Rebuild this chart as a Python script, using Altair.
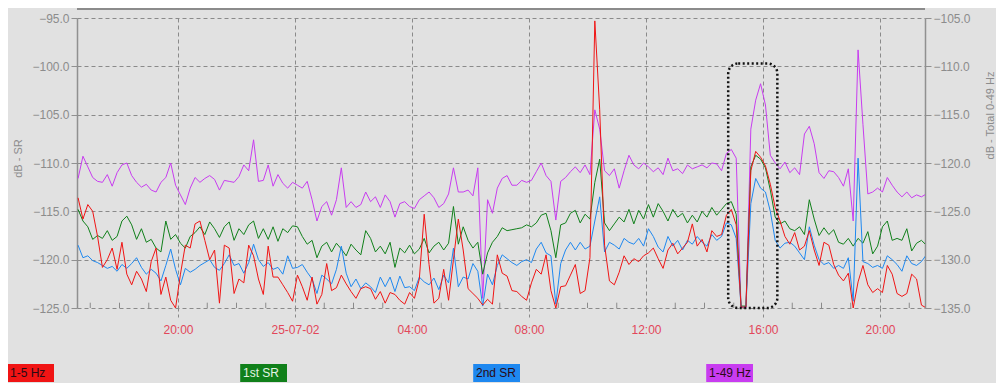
import altair as alt
import numpy as np
import pandas as pd

# sampling grid: 10-minute samples starting 25-07-01 16:35 (hours since 25-07-01 00:00)
START_HOUR = 16 + 35 / 60
STEP_HOUR = 10 / 60

RED = [
    -113.6, -115.8, -114.3, -115.0, -117.6, -120.8, -120.0, -118.8, -121.0, -118.2,
    -121.5, -122.6, -121.2, -122.0, -123.3, -120.2, -118.8, -123.6, -121.8, -124.2,
    -125.0, -121.5, -118.5, -118.8, -116.3, -116.0, -118.0, -120.0, -119.0, -124.5,
    -118.5,
    -118.8, -123.5, -122.0, -122.4, -118.5, -119.6, -122.0, -123.6, -118.6, -121.8,
    -121.8, -122.6, -123.4, -124.3, -121.6, -122.8, -124.2, -121.8, -124.6, -123.6,
    -120.4, -123.2, -122.9, -121.6, -122.5, -123.3, -124.0, -123.0, -122.8,
    -123.0, -124.1, -123.3, -124.5, -123.4, -123.6, -124.2, -124.6, -123.4, -124.0,
    -122.0, -115.3, -120.5, -124.5, -124.0, -121.0, -124.2, -120.0, -115.8, -119.0,
    -123.0, -123.5, -124.0, -124.7, -124.1, -124.6, -119.5, -121.4, -121.7, -123.2,
    -123.3, -123.8, -124.2, -122.4, -121.0, -121.5, -119.5, -123.2, -125.0, -122.8,
    -122.7, -121.6, -120.5, -123.5, -123.2, -119.8, -95.3, -104.5, -118.5, -122.2,
    -122.6, -121.3, -119.6, -120.5, -119.9, -120.2, -119.6, -119.3, -118.8, -119.9,
    -120.9, -119.0, -118.3, -119.4, -118.8, -118.2, -116.3, -118.6, -117.9, -119.2,
    -117.0, -117.6, -117.4, -115.4, -114.8, -116.4, -124.9, -124.9, -110.8, -108.8,
    -109.4, -110.3, -112.2, -114.6, -116.0, -117.6, -118.4, -117.2, -119.0, -118.6,
    -117.0, -119.0, -120.6, -118.2, -118.5, -120.5, -121.6, -122.2, -121.4, -125.0,
    -122.3, -120.6, -122.6, -123.4, -123.0, -123.4, -120.6, -121.5, -123.5, -123.8,
    -123.5, -121.5, -122.0, -124.7, -125.0,
]

GREEN = [
    -114.8, -116.0, -116.6, -117.9, -117.5, -117.8, -117.0, -118.0, -117.6, -116.0,
    -115.5, -116.4, -117.9, -116.8, -118.2, -117.9, -118.8, -119.2, -116.0, -117.9,
    -117.4, -118.3, -118.8, -117.6, -117.2, -116.6, -117.4, -116.1, -116.8, -117.7,
    -116.6,
    -116.1, -118.0, -116.8, -117.4, -116.4, -116.0, -117.8, -116.8, -117.9, -116.6,
    -118.1, -116.8, -117.2, -116.5, -116.6, -117.6, -118.4, -118.0, -119.8, -118.6,
    -118.2, -119.2, -118.3, -118.9, -119.6, -118.4, -119.0, -119.5, -117.0,
    -117.8, -119.2, -118.6, -119.4, -118.2, -120.8, -118.8, -119.3, -118.5, -119.4,
    -118.9, -117.8, -119.3, -118.6, -118.2, -119.0, -118.3, -114.5, -118.4, -116.6,
    -118.0, -118.8, -118.2, -121.5, -119.3, -118.2, -117.6, -116.7, -117.0, -116.9,
    -116.8, -116.7, -116.4, -116.6, -116.2, -115.4, -115.2, -117.0, -119.8, -116.4,
    -116.2, -115.2, -114.9, -116.2, -115.3, -115.8, -112.0, -109.6, -116.2, -117.0,
    -116.3, -115.6, -116.1, -114.8, -116.3, -114.9, -115.8, -114.3, -115.6, -114.2,
    -115.0, -116.0, -114.8, -115.6, -115.2, -116.2, -115.4, -116.1, -115.0, -115.6,
    -114.6, -115.4, -114.8, -114.2, -114.0, -115.3, -124.8, -124.8, -110.4, -109.2,
    -109.6, -110.5, -112.8, -115.6, -116.3, -116.0, -116.8, -117.0, -116.6, -117.4,
    -113.8, -115.8, -117.5, -116.7, -117.4, -116.9, -118.2, -118.4, -117.8, -118.6,
    -117.8, -118.3, -117.1, -119.4, -118.6, -116.6, -116.0, -118.0, -117.8, -118.0,
    -116.8, -119.1, -118.3, -118.0, -118.5,
]

BLUE = [
    -118.5, -119.8, -119.6, -120.1, -120.3, -120.6, -120.9, -120.7, -121.2, -120.5,
    -120.9, -120.4, -119.8, -120.8, -121.5, -121.0, -121.4, -122.2, -120.6, -118.9,
    -121.0, -122.6, -120.9, -121.3, -121.0, -120.6, -120.3, -120.0, -120.8, -121.1,
    -120.4,
    -119.5, -120.6, -120.4, -121.4, -120.3, -118.4, -120.0, -120.7, -120.3, -121.0,
    -120.8, -121.5, -119.6, -120.9, -120.8, -120.5, -121.3, -122.0, -123.5, -121.6,
    -122.0, -122.5, -121.0, -118.6, -121.4, -122.8, -122.0, -123.0, -122.4,
    -122.8, -123.4, -121.8, -122.8, -121.8, -123.3, -121.7, -122.9, -122.8, -123.2,
    -121.8, -122.3, -122.6, -121.9, -123.1, -121.6, -122.4, -118.8, -122.8, -121.8,
    -122.0, -120.4, -121.2, -124.8, -121.5, -122.6, -120.6, -119.5, -119.9, -120.3,
    -120.6, -120.2, -120.0, -120.3, -118.9, -118.2, -119.3, -119.6, -124.6, -120.4,
    -119.0, -118.2, -119.0, -118.2, -118.9, -118.6, -116.0, -113.5, -119.2, -118.2,
    -118.5, -118.9, -117.8, -118.2, -118.4, -117.8, -118.6, -116.8, -117.6, -118.7,
    -119.2, -117.6, -118.6, -118.0, -119.0, -118.0, -118.4, -117.6, -118.2, -118.6,
    -117.4, -118.0, -117.6, -116.2, -116.4, -117.8, -124.9, -124.9, -114.2, -111.6,
    -112.6, -113.0, -115.0, -118.0, -118.8, -118.3, -118.2, -118.6, -119.3, -120.0,
    -116.6, -118.5, -120.0, -120.5, -120.3, -120.9, -120.6, -120.9, -119.8, -124.3,
    -109.5, -120.2, -120.4, -120.8, -120.6, -120.9, -119.6, -120.0, -120.5, -121.2,
    -119.6, -120.4, -120.6, -120.2, -119.5,
]

# 1-49 Hz, in units of the right axis (dB - Total 0-49 Hz)
MAGENTA = [
    -121.6, -119.3, -120.4, -121.5, -121.9, -122.0, -121.2, -122.4, -121.0, -120.2,
    -120.0, -121.3, -122.0, -122.5, -122.2, -122.8, -123.0, -122.0, -121.5, -120.0,
    -122.3, -123.3, -124.3, -122.6, -121.5, -122.0, -121.6, -121.3, -121.7, -122.8,
    -121.8,
    -121.9, -122.0, -121.4, -120.2, -120.8, -117.6, -121.9, -121.8, -120.2, -122.4,
    -121.2, -122.1, -122.6, -122.0, -122.3, -122.6, -121.9, -123.8, -126.0, -124.5,
    -124.0, -125.4, -123.8, -120.5, -124.6, -124.0, -124.6, -124.3, -123.0,
    -124.0, -123.5, -124.6, -123.3, -124.0, -125.6, -124.2, -124.0, -124.5, -124.7,
    -123.8, -123.4, -123.0, -123.6, -124.6, -124.2, -123.2, -120.5, -123.0, -123.0,
    -122.8, -123.4, -120.5, -134.0, -123.8, -125.2, -122.6, -121.6, -121.3, -122.3,
    -122.3, -121.8, -122.0, -121.8, -120.9, -120.0, -121.3, -121.9, -125.9, -121.9,
    -121.5, -120.9, -120.4, -121.0, -120.2, -121.2, -114.5, -116.5, -120.8, -121.3,
    -120.6, -122.6, -120.8, -119.2, -120.2, -120.6, -120.0, -120.4, -120.9, -120.5,
    -121.2, -119.5, -120.8, -120.6, -121.1, -120.2, -120.6, -120.4, -120.2, -120.5,
    -120.0, -120.1, -120.8, -119.0, -118.6, -119.5, -135.0, -135.0, -116.5, -113.5,
    -111.8, -114.0, -119.2, -120.0, -120.6, -119.9, -121.0, -120.5, -121.2, -117.0,
    -116.2, -118.0, -121.0, -121.6, -120.8, -120.9, -121.5, -122.4, -120.6, -126.0,
    -108.3, -116.0, -123.2, -123.0, -122.6, -123.0, -121.5, -122.3, -123.0, -123.5,
    -123.0, -123.6, -123.3, -123.5, -123.2,
]

SERIES = ["1-5 Hz", "1st SR", "2nd SR", "1-49 Hz"]
COLORS = ["#f01414", "#10801a", "#1e88f0", "#c83cf0"]

TICK_HOURS = [20, 24, 28, 32, 36, 40, 44]
TICK_LABELS = ["20:00", "25-07-02", "04:00", "08:00", "12:00", "16:00", "20:00"]
MINOR_HOURS = [17, 18, 19, 21, 22, 23, 25, 26, 27, 29, 30, 31, 33, 34, 35,
               37, 38, 39, 41, 42, 43, 45]
LEFT_TICKS = [-125, -120, -115, -110, -105, -100, -95]
RIGHT_TICKS = [-135, -130, -125, -120, -115, -110, -105]
X_DOMAIN = [16.547, 45.538]

# highlighted event (dotted box)
BOX_H = [38.81, 40.49]
BOX_DB = [-99.7, -125.0]

n = len(RED)
hours = START_HOUR + STEP_HOUR * np.arange(n)

red_df = pd.DataFrame({"hour": hours, "db": RED})
green_df = pd.DataFrame({"hour": hours, "db": GREEN})
blue_df = pd.DataFrame({"hour": hours, "db": BLUE})
magenta_df = pd.DataFrame({"hour": hours, "db": MAGENTA})
legend_df = pd.DataFrame({"hour": [hours[0]] * 4, "db": [RED[0], GREEN[0], BLUE[0], RED[0]],
                          "series": SERIES})
minor_df = pd.DataFrame({"hour": MINOR_HOURS})
box_df = pd.DataFrame({"hour": [BOX_H[0]], "hour2": [BOX_H[1]], "db": [BOX_DB[0]], "db2": [BOX_DB[1]]})

FONT = "Liberation Sans"
GREY = "#8c8c8c"
GRID = "#8a8a8a"

x_scale = alt.Scale(domain=X_DOMAIN, nice=False, zero=False)
left_scale = alt.Scale(domain=[LEFT_TICKS[0], LEFT_TICKS[-1]], nice=False, zero=False)
right_scale = alt.Scale(domain=[RIGHT_TICKS[0], RIGHT_TICKS[-1]], nice=False, zero=False)

label_expr = " : ".join(f"datum.value == {h} ? '{l}'" for h, l in zip(TICK_HOURS, TICK_LABELS)) + " : ''"

x_axis = alt.Axis(
    values=TICK_HOURS, labelExpr=label_expr, grid=True, gridDash=[4, 3], gridColor=GRID,
    gridWidth=1, tickDash=[3, 3], tickColor=GRID, tickSize=10, labelColor="#e2475a",
    labelFontSize=12, labelFont=FONT, labelPadding=6, domain=False, title="",
    orient="bottom",
)

left_axis = alt.Axis(
    orient="left", values=LEFT_TICKS, format=".1f", grid=True, gridDash=[4, 3],
    gridColor=GRID, gridWidth=1, domainColor="#909090", domainWidth=1.5,
    tickColor="#909090", tickSize=6, labelColor=GREY, labelFontSize=12, labelFont=FONT,
    labelPadding=2, title="dB - SR", titleColor=GREY, titleFontSize=11,
    titleFontWeight="normal", titleFont=FONT, titleX=-59, titleY=140, titleAngle=270,
    titleAlign="center", titleBaseline="middle",
)

right_axis = alt.Axis(
    orient="right", values=RIGHT_TICKS, format=".1f", grid=False,
    domainColor="#909090", domainWidth=1.5, tickColor="#909090", tickSize=6,
    labelColor=GREY, labelFontSize=12, labelFont=FONT, labelPadding=2,
    title="dB - Total 0-49 Hz", titleColor=GREY, titleFontSize=11,
    titleFontWeight="normal", titleFont=FONT, titleX=65, titleY=97, titleAngle=270,
    titleAlign="center", titleBaseline="middle",
)

legend = alt.Legend(
    orient="none", legendX=-86, legendY=346, direction="horizontal", title=None,
    symbolType="M0.8,-1H6V1H0.8Z", symbolSize=324, symbolStrokeWidth=0,
    symbolOpacity=1, labelOffset=1, labelFontSize=12, labelFont=FONT,
    labelColor=alt.ExprRef("datum.label == '1st SR' ? '#e4f4e4' : '#2a0a14'"),
    columnPadding=170, gridAlign="all", padding=0,
)

X = alt.X("hour:Q", scale=x_scale, axis=x_axis)
Y_LEFT = alt.Y("db:Q", scale=left_scale, axis=left_axis)


def left_line(df, color):
    return alt.Chart(df).mark_line(strokeWidth=1, clip=True, color=color).encode(x=X, y=Y_LEFT)


magenta = alt.Chart(magenta_df).mark_line(strokeWidth=1, clip=True, color=COLORS[3]).encode(
    x=X,
    y=alt.Y("db:Q", scale=right_scale, axis=right_axis),
)

minor = alt.Chart(minor_df).mark_rule(color=GRID, strokeWidth=1).encode(
    x=X,
    y=alt.YDatum(LEFT_TICKS[0], type="quantitative", scale=left_scale, axis=left_axis),
    y2=alt.Y2Datum(LEFT_TICKS[0] + 0.55),
)

box = alt.Chart(box_df).mark_rect(
    fillOpacity=0, stroke="#111111", strokeWidth=2.5, strokeDash=[2, 2.5], cornerRadius=10
).encode(
    x=X, x2="hour2:Q",
    y=Y_LEFT, y2="db2:Q",
)

legend_pts = alt.Chart(legend_df).mark_point(filled=True, opacity=0).encode(
    x=X,
    y=Y_LEFT,
    fill=alt.Fill("series:N", scale=alt.Scale(domain=SERIES, range=COLORS), legend=legend),
)

top_line = alt.Chart(pd.DataFrame({"a": [0]})).mark_rule(color="#6e6e6e", strokeWidth=1.5).encode(
    x=alt.value(0), x2=alt.value(848), y=alt.value(-9)
)

chart = alt.layer(
    magenta,
    alt.layer(
        left_line(green_df, COLORS[1]),
        left_line(blue_df, COLORS[2]),
        left_line(red_df, COLORS[0]),
        minor, box, legend_pts, top_line,
    ),
).resolve_scale(y="independent").properties(
    width=848, height=290,
    autosize=alt.AutoSizeParams(type="none"),
    padding={"left": 69, "top": 10, "right": 71, "bottom": 75},
    background="#e1e1e1",
).configure_view(strokeWidth=0)

chart.save("out.html", embed_options={"renderer": "svg", "actions": False})
